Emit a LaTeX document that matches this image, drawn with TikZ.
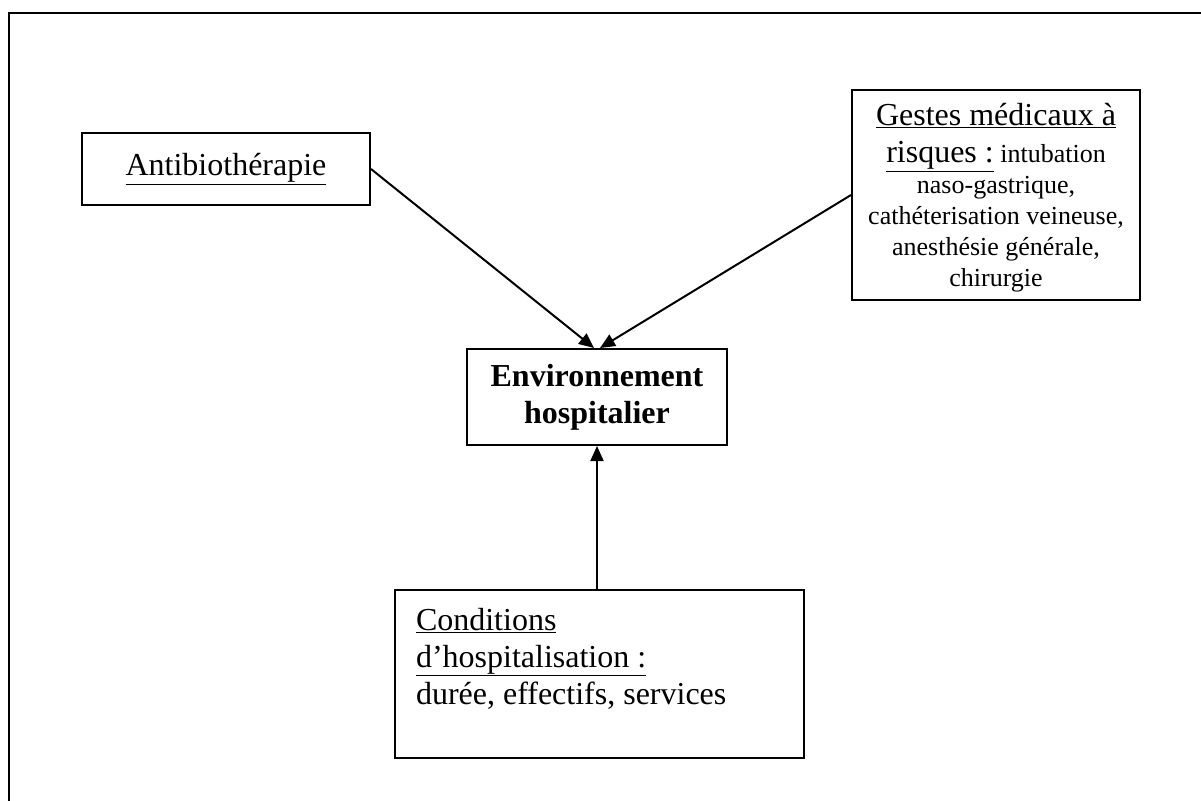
\documentclass[tikz,border=0pt]{standalone}
\usepackage{fontspec}
\setmainfont{Liberation Serif}
\usetikzlibrary{arrows.meta}
\tikzset{
  box/.style={draw, line width=2pt, inner sep=0pt, align=center},
  conn/.style={line width=2pt, -{Triangle[length=15pt,width=13pt]}},
}
\newcommand{\ul}[1]{\underline{#1}}
\newcommand{\bigf}{\fontsize{32}{31}\selectfont}
\newcommand{\smallf}{\fontsize{26}{31}\selectfont}
\begin{document}
\begin{tikzpicture}[x=1pt,y=-1pt]
\useasboundingbox (0,0) rectangle (1201,800);
\fill[white] (0,0) rectangle (1201,800);
\draw[line width=2.6pt] (9,802) -- (9,13) -- (1203,13);

\node[box, minimum width=288pt, minimum height=72pt, font=\fontsize{32}{37}\selectfont] (antibio) at (226,169) {\ul{Antibiothérapie}};

\node[box, minimum width=288pt, minimum height=210pt, font=\smallf] (gestes) at (996,195)
  {\rule{0pt}{28pt}{\bigf\ul{Gestes médicaux à}}\\[6pt]
   {\bigf\ul{risques :}} intubation\\[0pt]
   naso-gastrique,\\
   cathéterisation veineuse,\\
   anesthésie générale,\\
   chirurgie};

\node[box, minimum width=260pt, minimum height=96pt, font=\bfseries\fontsize{32}{37}\selectfont] (env) at (597,397) {Environnement\\hospitalier};

\node[draw, line width=2pt, inner sep=0pt, anchor=north west] (cond) at (394,589)
  {\parbox[b][168pt][t]{409pt}{\fontsize{32}{37}\selectfont\vspace*{18pt}\hspace*{21pt}\ul{Conditions}\\
   \hspace*{21pt}\ul{d’hospitalisation :}\\
   \hspace*{21pt}durée, effectifs, services}};

\coordinate (envL) at ([xshift=-3pt]env.north);
\coordinate (envR) at ([xshift=3pt]env.north);
\draw[conn] (antibio.east) -- (envL);
\draw[conn] (gestes.west) -- (envR);
\draw[conn] (cond.north -| env.south) -- (env.south);
\end{tikzpicture}
\end{document}
